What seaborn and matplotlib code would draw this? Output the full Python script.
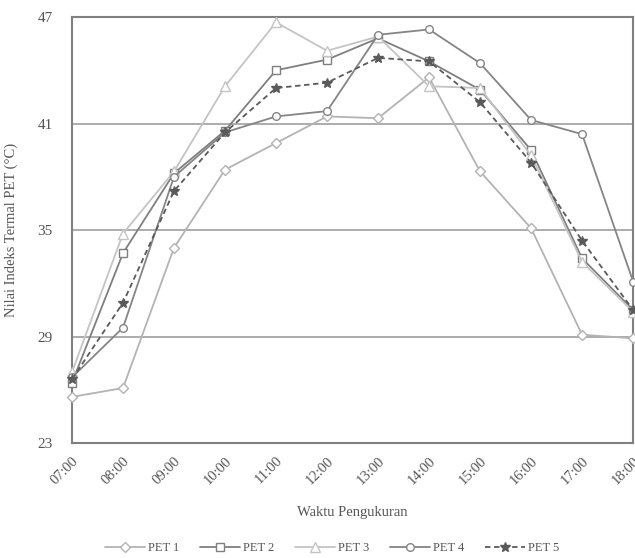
import matplotlib
matplotlib.use("Agg")
import matplotlib.pyplot as plt
import seaborn as sns
import pandas as pd

hours = ["07:00", "08:00", "09:00", "10:00", "11:00", "12:00",
         "13:00", "14:00", "15:00", "16:00", "17:00", "18:00"]
pet1 = [25.6, 26.1, 34.0, 38.4, 39.9, 41.4, 41.3, 43.6, 38.3, 35.1, 29.1, 28.9]
pet2 = [26.4, 33.7, 38.2, 40.6, 44.0, 44.6, 45.8, 44.5, 42.9, 39.5, 33.4, 30.5]
pet3 = [27.0, 34.8, 38.3, 43.1, 46.7, 45.1, 45.9, 43.1, 43.0, 39.2, 33.2, 30.4]
pet4 = [26.7, 29.5, 38.0, 40.5, 41.4, 41.7, 46.0, 46.3, 44.4, 41.2, 40.4, 32.1]
pet5 = [26.6, 30.9, 37.2, 40.5, 43.0, 43.3, 44.7, 44.5, 42.2, 38.8, 34.4, 30.5]
series_names = ["PET 1", "PET 2", "PET 3", "PET 4", "PET 5"]
y_ticks = [23, 29, 35, 41, 47]

sns.set_theme(style="white")
plt.rcParams["font.family"] = ["Liberation Serif", "DejaVu Serif"]
txt = "#555555"

fig = plt.figure(figsize=(6.35, 5.58), dpi=100)
ax = fig.add_axes([0.1134, 0.206, 0.8836, 0.7635])

styles = {
    "PET 1": dict(color="#b3b3b3", marker="D", linestyle="-", mfc="white", ms=5.5),
    "PET 2": dict(color="#7f7f7f", marker="s", linestyle="-", mfc="white", ms=6),
    "PET 3": dict(color="#c4c4c4", marker="^", linestyle="-", mfc="white", ms=6.5),
    "PET 4": dict(color="#858585", marker="o", linestyle="-", mfc="white", ms=5.5),
    "PET 5": dict(color="#5a5a5a", marker="*", linestyle=(0, (3, 2)), mfc="#5a5a5a", ms=7),
}

for yv in [29, 35, 41]:
    ax.axhline(yv, color="#a6a6a6", lw=1.3, zorder=0)

xs = list(range(len(hours)))
for name, vals in zip(series_names, [pet1, pet2, pet3, pet4, pet5]):
    df = pd.DataFrame({"x": xs, "y": vals})
    st = styles[name]
    sns.lineplot(data=df, x="x", y="y", ax=ax, color=st["color"],
                 marker=st["marker"], linestyle=st["linestyle"],
                 markerfacecolor=st["mfc"], markeredgecolor=st["color"],
                 markersize=st["ms"], markeredgewidth=1.0, linewidth=1.3,
                 label=name, clip_on=False, zorder=3)

ax.set_xlim(0, 11)
ax.set_ylim(23, 47)
ax.set_yticks(y_ticks)
ax.set_yticklabels([str(v) for v in y_ticks], fontsize=11, color=txt)
ax.set_xticks(xs)
ax.set_xticklabels(hours, rotation=45, ha="right", rotation_mode="anchor",
                   fontsize=10.5, color=txt)
ax.tick_params(axis="y", length=0, pad=14)
ax.tick_params(axis="x", length=0, pad=8)

for s in ax.spines.values():
    s.set_color("#808080")
    s.set_linewidth(1.5)

ax.set_xlabel("Waktu Pengukuran", fontsize=10.5, color=txt, labelpad=14)
ax.set_ylabel("Nilai Indeks Termal PET (°C)", fontsize=10.5, color=txt, labelpad=14)

ax.legend(loc="center", bbox_to_anchor=(0.523, 0.018), bbox_transform=fig.transFigure,
          ncol=5, frameon=False, fontsize=9, handlelength=3.2, handletextpad=0.3,
          columnspacing=1.6, labelcolor=txt)

fig.savefig("out.png", dpi=100)
